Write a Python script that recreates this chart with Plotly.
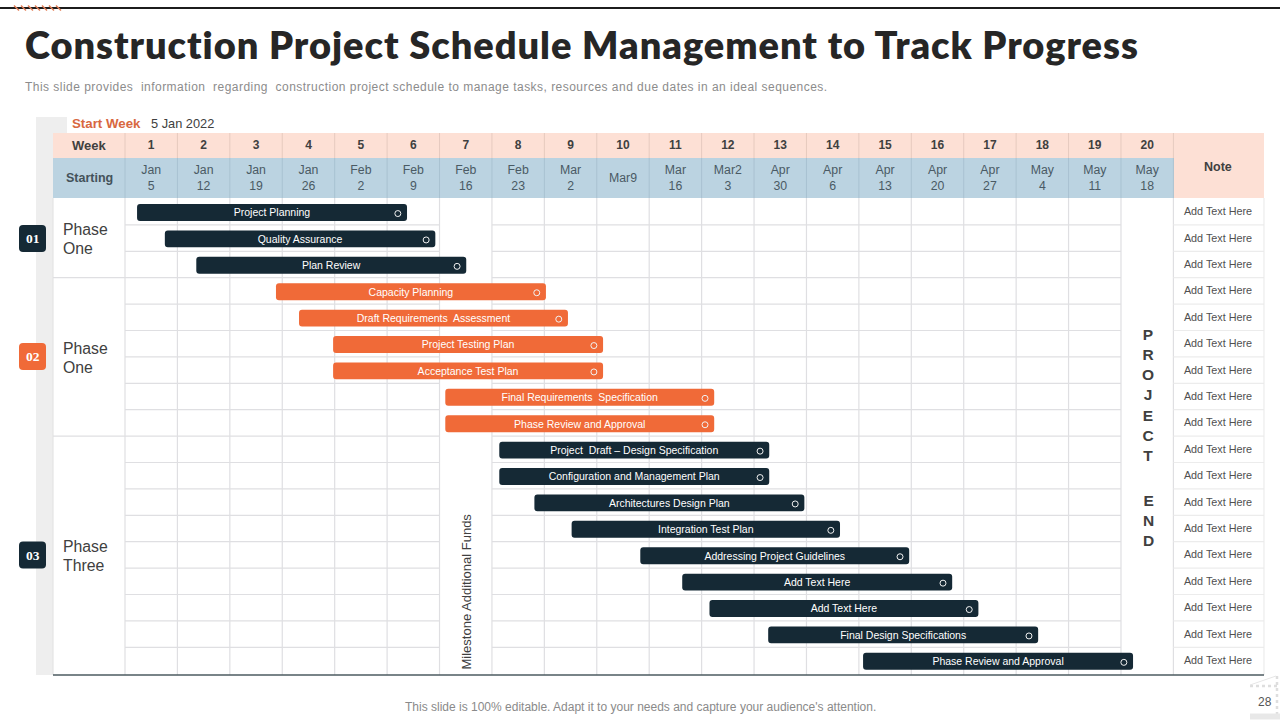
import plotly.graph_objects as go

# ---------- data ----------
TITLE = "Construction Project Schedule Management to Track Progress"
SUBTITLE = ("This slide provides  information  regarding  construction project schedule to manage tasks, "
            "resources and due dates in an ideal sequences.")
FOOTER = "This slide is 100% editable. Adapt it to your needs and capture your audience's attention."
weeks = [str(i) for i in range(1, 21)]
starting = ["Jan<br>5", "Jan<br>12", "Jan<br>19", "Jan<br>26", "Feb<br>2", "Feb<br>9", "Feb<br>16",
            "Feb<br>23", "Mar<br>2", "Mar9", "Mar<br>16", "Mar2<br>3", "Apr<br>30", "Apr<br>6",
            "Apr<br>13", "Apr<br>20", "Apr<br>27", "May<br>4", "May<br>11", "May<br>18"]
phases = [["Phase", "One"], ["Phase", "One"], ["Phase", "Three"]]
badges = ["01", "02", "03"]
phase_rows = [3, 6, 9]

task_names = ["Project Planning", "Quality Assurance", "Plan Review",
              "Capacity Planning", "Draft Requirements  Assessment", "Project Testing Plan",
              "Acceptance Test Plan", "Final Requirements  Specification", "Phase Review and Approval",
              "Project  Draft – Design Specification", "Configuration and Management Plan",
              "Architectures Design Plan", "Integration Test Plan", "Addressing Project Guidelines",
              "Add Text Here", "Add Text Here", "Final Design Specifications", "Phase Review and Approval"]
task_start = [0.23, 0.76, 1.36, 2.88, 3.32, 3.97, 3.97, 6.11, 6.11, 7.14, 7.14, 7.81,
              8.52, 9.83, 10.63, 11.15, 12.27, 14.08]
task_end = [5.38, 5.92, 6.51, 8.03, 8.45, 9.12, 9.12, 11.24, 11.24, 12.29, 12.29, 12.96,
            13.64, 14.96, 15.78, 16.28, 17.42, 19.23]
note_labels = ["Add Text Here"] * 18

# ---------- colours ----------
NAVY = "#152935"
ORANGE = "#f06a38"
PEACH = "#fde0d5"
BLUE = "#bbd3e1"
GRID = "#dfdfe2"
TEXT = "#404040"
SANS = "Liberation Sans"

# ---------- pixel <-> axis mapping ----------
COL0, COLW = 125.0, 52.42
ROW0, ROWH = 198.5, 26.4
def X(px): return (px - COL0) / COLW
def Y(py): return (py - ROW0) / ROWH

shapes, notes = [], []
def rect(x0, y0, x1, y1, fill):
    shapes.append(dict(type="rect", xref="x", yref="y", x0=X(x0), x1=X(x1), y0=Y(y0), y1=Y(y1),
                       fillcolor=fill, line_width=0, layer="below"))
def line(x0, y0, x1, y1, color=GRID, width=1.2, dash="solid"):
    shapes.append(dict(type="line", xref="x", yref="y", x0=X(x0), x1=X(x1), y0=Y(y0), y1=Y(y1),
                       line=dict(color=color, width=width, dash=dash), layer="below"))
def round_box(x0, y0, x1, y1, fill, r=4):
    p = (f"M{X(x0+r)},{Y(y0)} L{X(x1-r)},{Y(y0)} Q{X(x1)},{Y(y0)} {X(x1)},{Y(y0+r)} "
         f"L{X(x1)},{Y(y1-r)} Q{X(x1)},{Y(y1)} {X(x1-r)},{Y(y1)} L{X(x0+r)},{Y(y1)} "
         f"Q{X(x0)},{Y(y1)} {X(x0)},{Y(y1-r)} L{X(x0)},{Y(y0+r)} Q{X(x0)},{Y(y0)} {X(x0+r)},{Y(y0)} Z")
    shapes.append(dict(type="path", xref="x", yref="y", path=p, fillcolor=fill, line_width=0, layer="below"))
def label(px, py, text, size=12, color=TEXT, family=SANS, weight=400, anchor="left", angle=0):
    if anchor == "left":
        px -= 2  # annotation box padding
    notes.append(dict(xref="x", yref="y", x=X(px), y=Y(py), text=text, showarrow=False, xanchor=anchor,
                      yanchor="middle", textangle=angle, align=anchor,
                      font=dict(size=size, color=color, family=family, weight=weight)))

# ---------- page furniture ----------
line(0, 8, 1280, 8, "#1c1c1c", 2)
for i in range(7):
    x = 14 + i * 7
    line(x, 5.5, x + 5, 10.5, "#e2805a", 1.5)
label(25, 44, TITLE, size=38, color="#262626", family="Lato", weight=800)
label(25, 86.5, SUBTITLE, size=12, color="#8c8c8c")
label(640, 707, FOOTER, size=12, color="#8a8a8a", anchor="center")
label(1265, 702, "28", size=12, color="#555555", anchor="center")
# crane motif
line(1250, 686, 1280, 686, "#dedede", 2.5, "dot")
line(1277, 676, 1277, 714, "#dedede", 2.5, "dot")
line(1250, 685, 1276, 676, "#e6e6e6", 1)
line(1250, 716.5, 1280, 716.5, "#e8e8e8", 6)

# side strip
rect(36, 117, 53, 675, "#eeeeee")
rect(53, 117, 67, 133, "#eeeeee")
label(72, 123.5, "Start Week", size=13.3, color="#d8683f", weight=700)
label(151, 123.5, "5 Jan 2022", size=12.8, color="#404040")

# header bands
rect(53, 133, 1173.5, 158, PEACH)
rect(53, 158, 1173.5, 198, BLUE)
rect(1173.5, 133, 1264, 198, PEACH)
label(89, 145, "Week", size=13, weight=700, anchor="center")
label(89, 178, "Starting", size=12.5, color="#44525a", weight=700, anchor="center")
label(1218, 166.5, "Note", size=12.5, weight=700, anchor="center")

# grid: week columns and rows
for c in range(21):
    px = COL0 + c * COLW
    line(px, 133, px, 158, "#e6cabf", 1)
    line(px, 158, px, 198, "#a9c2d1", 1)
    line(px, 198, px, 675, GRID, 1.2)
for r in range(1, 18):
    py = ROW0 + r * ROWH
    line(COL0, py, COL0 + 6 * COLW, py)
    line(COL0 + 7 * COLW, py, COL0 + 19 * COLW, py)
for r in range(1, 18):
    line(1173.5, ROW0 + r * ROWH, 1264, ROW0 + r * ROWH, "#ececec", 1.2)
line(1264, 198, 1264, 675, "#ececec", 1.2)
line(53, 198, 53, 675, "#e4e4e4", 1.2)
line(53, 675, 1264, 675, "#4d5b61", 1.5)

# phase blocks
start = 0
badge_cols = [NAVY, ORANGE, NAVY]
badge_y = [238.5, 356.5, 555]
label_y = [238.5, 357.5, 555.5]
for i, n in enumerate(phase_rows):
    bottom = ROW0 + (start + n) * ROWH
    if i < 2:
        line(53, bottom, COL0, bottom)
    label(63, label_y[i] - 9.5, phases[i][0], size=15.8, color="#404040")
    label(63, label_y[i] + 9.5, phases[i][1], size=15.8, color="#404040")
    round_box(19, badge_y[i] - 13.5, 46, badge_y[i] + 13.5, badge_cols[i])
    label(32.5, badge_y[i], badges[i], size=13.5, color="white", family="Liberation Serif", weight=700, anchor="center")
    start += n

# verticals inside the grid
label(466, 591.5, "Milestone Additional Funds", size=13, color="#404040", anchor="center", angle=-90)
label(1148, 395, "P<br>R<br>O<br>J<br>E<br>C<br>T", size=15.5, color="#404040", weight=700, anchor="center")
label(1148, 520, "E<br>N<br>D", size=15.5, color="#404040", weight=700, anchor="center")

# ---------- traces ----------
fig = go.Figure()
cols = [NAVY] * 3 + [ORANGE] * 6 + [NAVY] * 9
rows = list(range(18))
fig.add_trace(go.Bar(
    orientation="h", y=[r + 0.53 for r in rows], base=task_start,
    x=[e - s for s, e in zip(task_start, task_end)], width=0.64,
    marker=dict(color=cols, line_width=0), text=task_names, textposition="inside",
    insidetextanchor="middle", textangle=0, constraintext="none",
    textfont=dict(family=SANS, size=10.5, color="white"), hoverinfo="skip", showlegend=False))
fig.add_trace(go.Scatter(
    x=[e - 0.175 for e in task_end], y=[r + 0.57 for r in rows], mode="markers",
    marker=dict(symbol="circle-open", size=6, color="#f2f2f2", line=dict(width=1, color="#f2f2f2")),
    hoverinfo="skip", showlegend=False))
centers = [c + 0.5 for c in range(20)]
fig.add_trace(go.Scatter(x=centers, y=[Y(145.5)] * 20, mode="text", text=weeks,
                         textfont=dict(family=SANS, size=12, color=TEXT, weight=700),
                         hoverinfo="skip", showlegend=False))
fig.add_trace(go.Scatter(x=centers, y=[Y(179)] * 20, mode="text", text=starting,
                         textfont=dict(family=SANS, size=12.3, color="#4a5a64"),
                         hoverinfo="skip", showlegend=False))
fig.add_trace(go.Scatter(x=[X(1218)] * 18, y=[r + 0.53 for r in rows], mode="text", text=note_labels,
                         textfont=dict(family=SANS, size=10.8, color="#505050"),
                         hoverinfo="skip", showlegend=False))

fig.update_layout(
    width=1280, height=720, margin=dict(l=0, r=0, t=0, b=0), paper_bgcolor="white", plot_bgcolor="white",
    xaxis=dict(range=[X(0), X(1280)], visible=False, fixedrange=True),
    yaxis=dict(range=[Y(720), Y(0)], visible=False, fixedrange=True),
    barmode="overlay", barcornerradius=3, shapes=shapes, annotations=notes, showlegend=False)

post = """
document.body.style.margin='0';document.documentElement.style.overflow='hidden';
document.querySelectorAll('.annotation-text').forEach(function(t){
  var s=t.textContent;
  if(s.indexOf('Construction Project')===0){t.style.letterSpacing='0.95px';}
  if(s.indexOf('This slide provides')===0){t.style.letterSpacing='0.47px';}
});
"""
fig.write_html("out.html", config=dict(displayModeBar=False), post_script=post)
